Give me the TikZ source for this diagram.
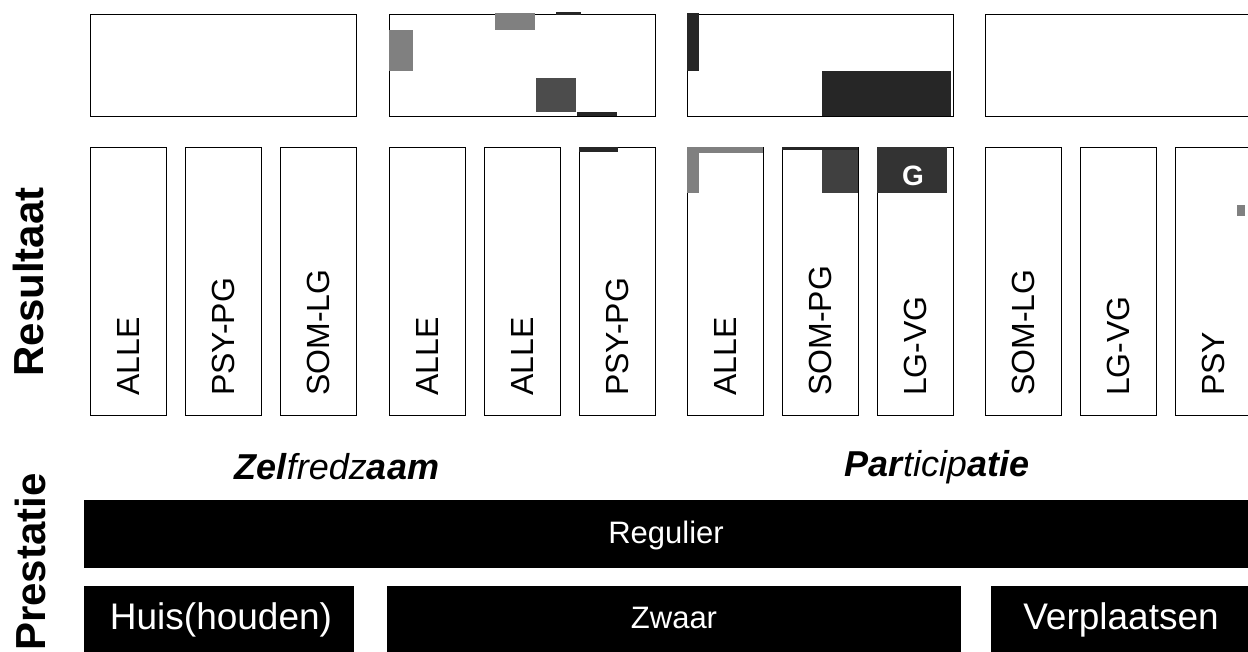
\documentclass[tikz,border=0pt]{standalone}
\usepackage{fontspec}
\setmainfont{Liberation Sans}
\begin{document}
\begin{tikzpicture}[x=1pt,y=-1pt,
  box/.style={draw=black, line width=1pt, fill=white},
  tallbox/.style={box, minimum width=76pt, minimum height=268pt, anchor=north west, inner sep=0pt},
  topbox/.style={box, minimum width=266pt, minimum height=102pt, anchor=north west, inner sep=0pt},
  vlabel/.style={rotate=90, anchor=west, inner sep=0pt, font=\fontsize{32}{38}\selectfont, text height=23pt, text depth=0pt},
  bar/.style={fill=black, draw=none, anchor=north west, inner sep=0pt},
  bartext/.style={text=white, inner sep=0pt, font=\fontsize{31}{37}\selectfont},
  bigbartext/.style={text=white, inner sep=0pt, font=\fontsize{37}{44}\selectfont},
  side/.style={rotate=90, inner sep=0pt, font=\bfseries\fontsize{42}{50}\selectfont},
  head/.style={inner sep=0pt, font=\itshape\fontsize{36}{42}\selectfont},
  patch/.style={fill=black!85},
  lightpatch/.style={fill=black!50}
]
\useasboundingbox (0,0) rectangle (1248,652);
\fill[white] (0,0) rectangle (1248,652);

% side labels
\node[side] (res) at (28,282) {Resultaat};
\node[side] (pre) at (30,562) {Prestatie};

% top boxes
\node[topbox] (t1) at (90,14) {};
\node[topbox] (t2) at (389,14) {};
\node[topbox] (t3) at (687,14) {};
\node[topbox] (t4) at (985,14) {};

% tall boxes group 1
\node[tallbox] (b1) at (90,147) {};
\node[tallbox] (b2) at (185,147) {};
\node[tallbox] (b3) at (280,147) {};
% group 2
\node[tallbox] (b4) at (389,147) {};
\node[tallbox] (b5) at (484,147) {};
\node[tallbox] (b6) at (579,147) {};
% group 3
\node[tallbox] (b7) at (687,147) {};
\node[tallbox] (b8) at (782,147) {};
\node[tallbox] (b9) at (877,147) {};
% group 4
\node[tallbox] (b10) at (985,147) {};
\node[tallbox] (b11) at (1080,147) {};
\node[tallbox] (b12) at (1175,147) {};

% scan patches
\fill[lightpatch] (389,30) rectangle (413,71);
\fill[lightpatch] (495,13) rectangle (535,30);
\fill[patch] (556,12) rectangle (581,15);
\fill[black!70] (536,78) rectangle (576,112);
\fill[patch] (577,112) rectangle (617,116);
\fill[patch] (687,13) rectangle (699,71);
\fill[patch] (822,71) rectangle (951,116);
\fill[lightpatch] (687,147) rectangle (763,153);
\fill[lightpatch] (687,147) rectangle (699,193);
\fill[patch] (782,147) rectangle (858,150);
\fill[black!75] (822,150) rectangle (858,193);
\fill[patch] (579,147) rectangle (618,152);
\fill[black!80] (877,147) rectangle (947,193);
\node[inner sep=0pt, text=white, font=\bfseries\fontsize{28}{30}\selectfont] (g) at (913,176) {G};
\fill[lightpatch] (1237,205) rectangle (1245,216);

% vertical labels
\node[vlabel] (l1) at (128,396) {ALLE};
\node[vlabel] (l2) at (223,396) {PSY-PG};
\node[vlabel] (l3) at (318,396) {SOM-LG};
\node[vlabel] (l4) at (427,396) {ALLE};
\node[vlabel] (l5) at (522,396) {ALLE};
\node[vlabel] (l6) at (617,396) {PSY-PG};
\node[vlabel] (l7) at (725,396) {ALLE};
\node[vlabel] (l8) at (820,396) {SOM-PG};
\node[vlabel] (l9) at (915,396) {LG-VG};
\node[vlabel] (l10) at (1023,396) {SOM-LG};
\node[vlabel] (l11) at (1118,396) {LG-VG};
\node[vlabel] (l12) at (1213,396) {PSY};

% headings
\node[head] (zel) at (337,467) {\bfseries Zel\mdseries fredz\bfseries aam};
\node[head] (par) at (937,467) {\bfseries Par\mdseries ticip\bfseries atie};

% bars
\node[bar, minimum width=1180pt, minimum height=68pt] (reg) at (84,500) {};
\node[bartext] (regt) at (666,535) {Regulier};
\node[bar, minimum width=270pt, minimum height=80pt] (huis) at (84,586) {};
\node[bigbartext] (huist) at (221,620) {Huis(houden)};
\node[bar, minimum width=574pt, minimum height=80pt] (zwaar) at (387,586) {};
\node[bartext] (zwaart) at (674,618) {Zwaar};
\node[bar, minimum width=270pt, minimum height=80pt] (verp) at (991,586) {};
\node[bigbartext] (verpt) at (1121,620) {Verplaatsen};
\end{tikzpicture}
\end{document}
